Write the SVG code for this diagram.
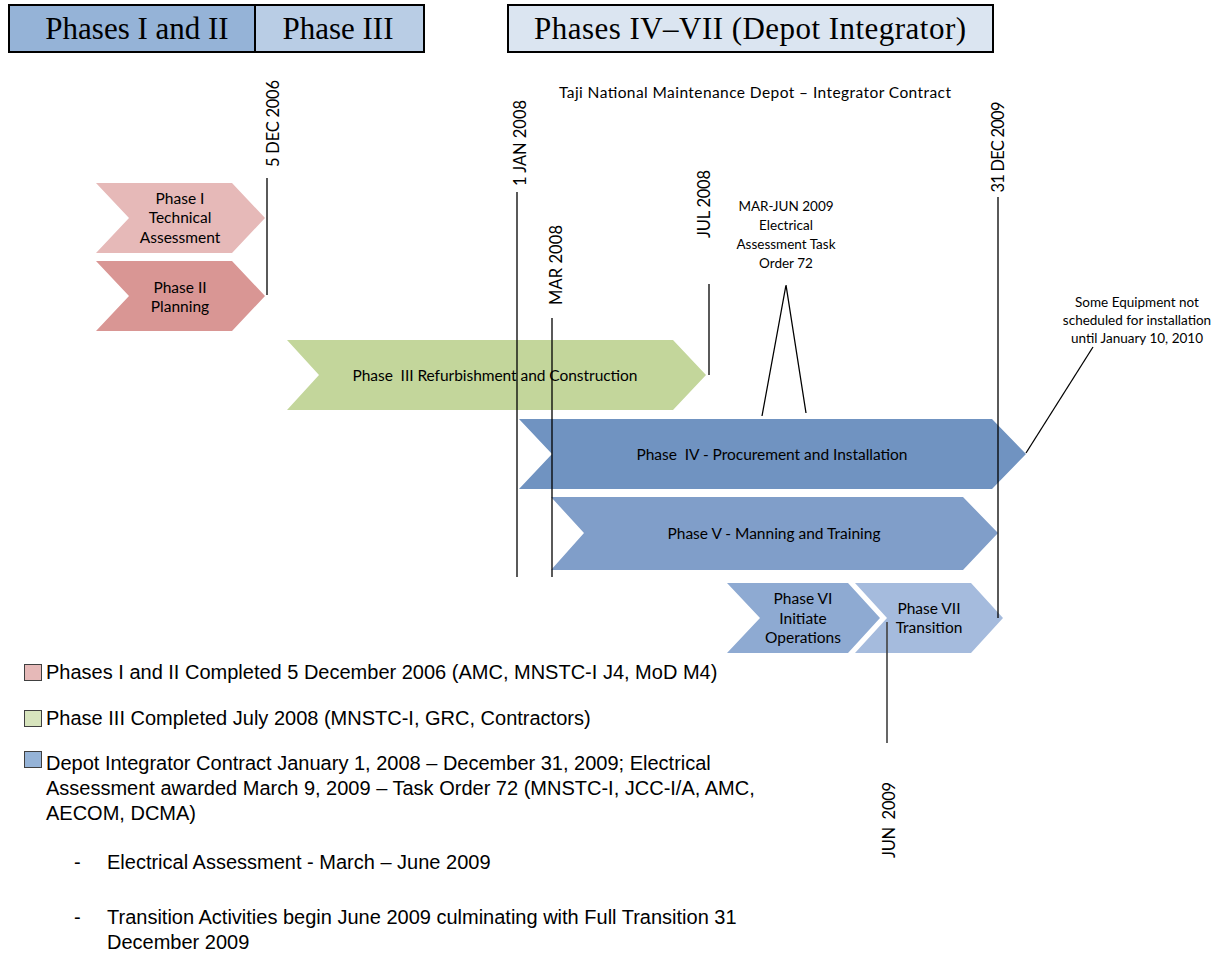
<svg xmlns="http://www.w3.org/2000/svg" width="1222" height="957" viewBox="0 0 1222 957">
<style>
.hdr{font-family:"Liberation Serif","Times New Roman",serif;font-size:31px;fill:#000;text-anchor:middle}
.cl{font-family:Lato,"Open Sans",sans-serif;font-size:15.5px;fill:#000;text-anchor:middle;dominant-baseline:central}
.sm{font-family:Lato,"Open Sans",sans-serif;font-size:13.5px;fill:#000;text-anchor:middle;dominant-baseline:central}
.dt{font-family:Lato,"Open Sans",sans-serif;font-size:16.5px;fill:#000;text-anchor:middle}
.lg{font-family:"Liberation Sans",Arial,sans-serif;font-size:20px;fill:#000}
.ln{stroke:#000;stroke-width:1.3;fill:none}
.pre{white-space:pre}
</style>
<rect width="1222" height="957" fill="#fff"/>
<g id="headers">
<rect x="9" y="5" width="246" height="47" fill="#95b3d7" stroke="#000" stroke-width="2"/>
<rect x="255" y="5" width="169" height="47" fill="#b9cde5" stroke="#000" stroke-width="2"/>
<rect x="508" y="5" width="485" height="47" fill="#dbe5f1" stroke="#000" stroke-width="2"/>
<text class="hdr" x="137" y="39">Phases I and II</text>
<text class="hdr" x="338" y="39">Phase III</text>
<text class="hdr" x="750" y="39" textLength="432">Phases IV–VII (Depot Integrator)</text>
</g>
<text id="title" class="cl" x="755" y="92" font-size="16" textLength="392">Taji National Maintenance Depot – Integrator Contract</text>
<g id="phase1">
<polygon points="96,183 232,183 265,218 232,253 96,253 129,218" fill="#e6b9b8"/>
<text class="cl" x="180" y="198">Phase I</text>
<text class="cl" x="180" y="217">Technical</text>
<text class="cl" x="180" y="237">Assessment</text>
</g>
<g id="phase2">
<polygon points="96,261 232,261 265,296 232,331 96,331 129,296" fill="#d99694"/>
<text class="cl" x="180" y="287">Phase II</text>
<text class="cl" x="180" y="306">Planning</text>
</g>
<g id="phase3">
<polygon points="287,340 673,340 706,375 673,410 287,410 319,375" fill="#c3d69b"/>
<text class="cl pre" x="495" y="375" textLength="285">Phase  III Refurbishment and Construction</text>
</g>
<g id="phase4">
<polygon points="519,419 992,419 1026,454 992,489 519,489 552,454" fill="#7093c1"/>
<text class="cl pre" x="772" y="454" textLength="271">Phase  IV - Procurement and Installation</text>
</g>
<g id="phase5">
<polygon points="551,497 963,497 998,533 963,570 551,570 584,533" fill="#809ec9"/>
<text class="cl" x="774" y="533" textLength="213">Phase V - Manning and Training</text>
</g>
<g id="phase6">
<polygon points="727,583 848,583 880,618 848,653 727,653 760,618" fill="#8eaad2"/>
<text class="cl" x="803" y="598">Phase VI</text>
<text class="cl" x="803" y="618">Initiate</text>
<text class="cl" x="803" y="637">Operations</text>
</g>
<g id="phase7">
<polygon points="855,583 971,583 1003,618 971,653 855,653 887,618" fill="#a5bbdd"/>
<text class="cl" x="929" y="608">Phase VII</text>
<text class="cl" x="929" y="627">Transition</text>
</g>
<g id="connectors">
<line class="ln" x1="267" y1="178" x2="267" y2="295"/>
<line class="ln" x1="517" y1="192" x2="517" y2="577"/>
<line class="ln" x1="552" y1="318" x2="552" y2="577"/>
<line class="ln" x1="709" y1="284" x2="709" y2="375"/>
<line class="ln" x1="998" y1="197" x2="998" y2="618"/>
<line x1="887" y1="622" x2="887" y2="743" stroke="#404040" stroke-width="1.6"/>
<polyline class="ln" points="762,416 786,285 806,413"/>
<line class="ln" x1="1093" y1="347" x2="1026" y2="453"/>
</g>
<g id="dates">
<text class="dt" transform="translate(279,123.5) rotate(-90)" textLength="87">5 DEC 2006</text>
<text class="dt" transform="translate(526,143) rotate(-90)" textLength="86">1 JAN 2008</text>
<text class="dt" transform="translate(562,265) rotate(-90)" textLength="80">MAR 2008</text>
<text class="dt" transform="translate(710,204) rotate(-90)" textLength="68">JUL 2008</text>
<text class="dt" transform="translate(1004,147) rotate(-90)" textLength="91">31 DEC 2009</text>
<text class="dt pre" transform="translate(895,820) rotate(-90)" textLength="76">JUN  2009</text>
</g>
<g id="notes">
<text class="sm" x="786" y="206">MAR-JUN 2009</text>
<text class="sm" x="786" y="225">Electrical</text>
<text class="sm" x="786" y="244">Assessment Task</text>
<text class="sm" x="786" y="263">Order 72</text>
<text class="sm" x="1137" y="302">Some Equipment not</text>
<text class="sm" x="1137" y="320">scheduled for installation</text>
<text class="sm" x="1137" y="338">until January 10, 2010</text>
</g>
<g id="legend">
<rect x="24.5" y="664.5" width="17" height="16" fill="#e6b9b8" stroke="#404040" stroke-width="1"/>
<rect x="24.5" y="710.5" width="17" height="16" fill="#d7e4bd" stroke="#404040" stroke-width="1"/>
<rect x="24.5" y="751.5" width="17" height="16" fill="#95b3d7" stroke="#404040" stroke-width="1"/>
<text class="lg" x="46" y="679">Phases I and II Completed 5 December 2006 (AMC, MNSTC-I J4, MoD M4)</text>
<text class="lg" x="46" y="725">Phase III Completed July 2008 (MNSTC-I, GRC, Contractors)</text>
<text class="lg" x="46" y="770">Depot Integrator Contract January 1, 2008 – December 31, 2009; Electrical</text>
<text class="lg" x="46" y="795">Assessment awarded March 9, 2009 – Task Order 72 (MNSTC-I, JCC-I/A, AMC,</text>
<text class="lg" x="46" y="820">AECOM, DCMA)</text>
<text class="lg" x="74" y="869">-</text>
<text class="lg" x="107" y="869">Electrical Assessment - March – June 2009</text>
<text class="lg" x="74" y="924">-</text>
<text class="lg" x="107" y="924">Transition Activities begin June 2009 culminating with Full Transition 31</text>
<text class="lg" x="107" y="949">December 2009</text>
</g>
</svg>
